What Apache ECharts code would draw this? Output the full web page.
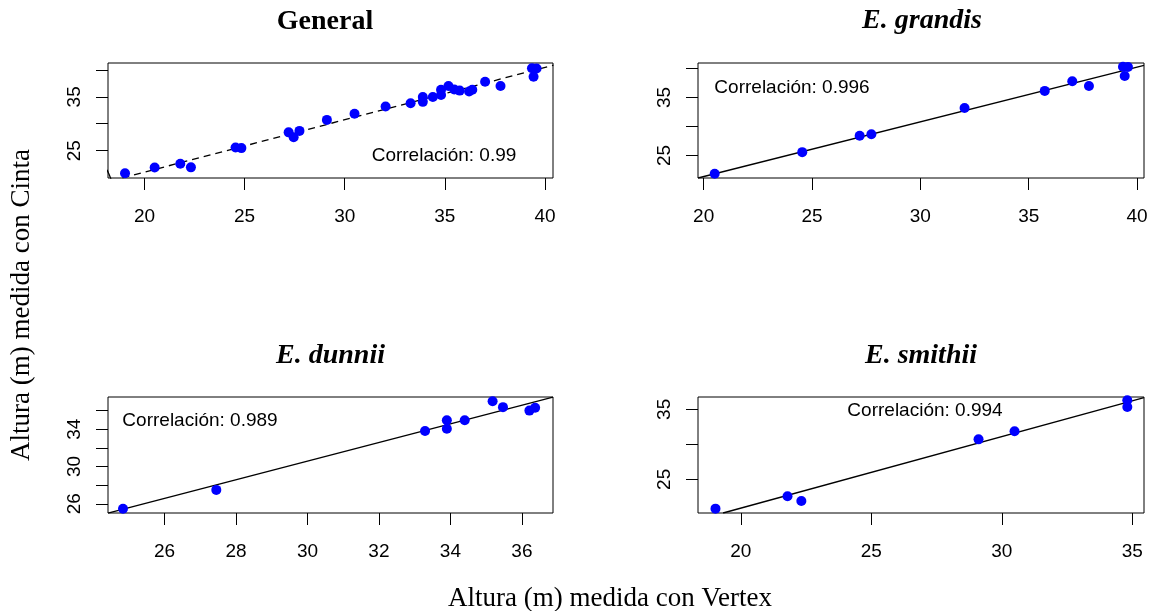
<!DOCTYPE html>
<html>
<head>
<meta charset="utf-8">
<script src="https://cdn.jsdelivr.net/npm/echarts@6/dist/echarts.min.js"></script>
<style>
  html, body { margin: 0; padding: 0; background: #ffffff; }
  #chart { width: 1155px; height: 611px; }
</style>
</head>
<body>
<div id="chart"></div>
<script>
// Heights (m): Vertex hypsometer (x) vs. tape "Cinta" (y), by species
const grandisVertex = [20.51, 24.55, 27.20, 27.74, 32.04, 35.74, 37.01, 37.78, 39.43, 39.35, 39.58];
const grandisCinta  = [21.86, 25.58, 28.40, 28.67, 33.20, 36.15, 37.80, 37.00, 38.72, 40.30, 40.27];

const dunniiVertex = [24.84, 27.45, 33.29, 33.90, 33.90, 34.40, 35.18, 35.47, 36.21, 36.37];
const dunniiCinta  = [25.47, 27.49, 33.82, 34.96, 34.06, 34.96, 37.00, 36.37, 36.00, 36.30];

const smithiiVertex = [19.03, 21.79, 22.32, 29.11, 30.49, 34.81, 34.81];
const smithiiCinta  = [20.81, 22.57, 21.90, 30.71, 31.86, 36.29, 35.33];

// Fitted lines, as end points [vertex, cinta]
const generalFit = [[18.90, 19.94], [40.42, 40.87]];
const generalFitTail = [[18.13, 21.43], [18.22, 20.69], [18.33, 19.70]];
const grandisFit = [[19.74, 21.12], [40.32, 40.56]];
const dunniiFit  = [[24.42, 25.00], [36.87, 37.44]];
const smithiiFit = [[19.32, 20.19], [35.45, 36.67]];

const correlations = ['0.99', '0.996', '0.989', '0.994'];
const panelTitles = ['General', 'E. grandis', 'E. dunnii', 'E. smithii'];

// Tick positions and the subset that carries labels
const generalXTicks = [20, 25, 30, 35, 40];
const generalYTicks = [25, 30, 35, 40];
const generalYLabels = [25, 35];
const grandisXTicks = [20, 25, 30, 35, 40];
const grandisYTicks = [25, 30, 35, 40];
const grandisYLabels = [25, 35];
const dunniiXTicks = [26, 28, 30, 32, 34, 36];
const dunniiYTicks = [26, 28, 30, 32, 34, 36];
const dunniiYLabels = [26, 30, 34];
const smithiiXTicks = [20, 25, 30, 35];
const smithiiYTicks = [25, 30, 35];
const smithiiYLabels = [25, 35];

const xAxisTitle = 'Altura (m) medida con Vertex';
const yAxisTitle = 'Altura (m) medida con Cinta';

const zip = (xs, ys) => xs.map((x, i) => [x, ys[i]]);

const generalPoints = zip(grandisVertex, grandisCinta)
  .concat(zip(dunniiVertex, dunniiCinta))
  .concat(zip(smithiiVertex, smithiiCinta));

const SANS = '"Liberation Sans", Arial, Helvetica, sans-serif';
const SERIF = '"Liberation Serif", "Times New Roman", serif';

const panels = [
  { grid: { left: 108, top: 63, width: 445, height: 115 },
    x: [18.18, 40.40], y: [19.92, 41.28],
    xTicks: generalXTicks, yTicks: generalYTicks, yLabels: generalYLabels,
    points: generalPoints, fit: generalFit, dashed: true, tail: generalFitTail,
    title: { x: 325, y: 22 }, corr: { x: 444, y: 156 } },
  { grid: { left: 698, top: 63, width: 446, height: 115 },
    x: [19.74, 40.32], y: [21.12, 40.96],
    xTicks: grandisXTicks, yTicks: grandisYTicks, yLabels: grandisYLabels,
    points: zip(grandisVertex, grandisCinta), fit: grandisFit, dashed: false,
    title: { x: 922, y: 21 }, corr: { x: 792, y: 88 } },
  { grid: { left: 108, top: 397, width: 445, height: 116 },
    x: [24.42, 36.87], y: [25.01, 37.46],
    xTicks: dunniiXTicks, yTicks: dunniiYTicks, yLabels: dunniiYLabels,
    points: zip(dunniiVertex, dunniiCinta), fit: dunniiFit, dashed: false,
    title: { x: 330.5, y: 356 }, corr: { x: 200, y: 421 } },
  { grid: { left: 698, top: 397, width: 446, height: 116 },
    x: [18.36, 35.45], y: [20.19, 36.76],
    xTicks: smithiiXTicks, yTicks: smithiiYTicks, yLabels: smithiiYLabels,
    points: zip(smithiiVertex, smithiiCinta), fit: smithiiFit, dashed: false,
    title: { x: 921, y: 356 }, corr: { x: 925, y: 411 } }
];

const grids = [], xAxes = [], yAxes = [], series = [], graphics = [];

panels.forEach((p, i) => {
  grids.push(Object.assign({ show: true, borderColor: '#000', borderWidth: 1,
    backgroundColor: 'transparent', containLabel: false }, p.grid));

  xAxes.push({
    type: 'value', gridIndex: i, min: p.x[0], max: p.x[1],
    axisLine: { show: false },
    splitLine: { show: false },
    axisTick: { show: true, length: 12, customValues: p.xTicks,
      lineStyle: { color: '#000', width: 1 } },
    axisLabel: { show: true, customValues: p.xTicks, margin: 29,
      color: '#000', fontSize: 19, fontFamily: SANS, hideOverlap: false }
  });

  yAxes.push({
    type: 'value', gridIndex: i, min: p.y[0], max: p.y[1],
    axisLine: { show: false },
    splitLine: { show: false },
    axisTick: { show: true, length: 12, customValues: p.yTicks,
      lineStyle: { color: '#000', width: 1 } },
    axisLabel: { show: true, customValues: p.yLabels, margin: 24, rotate: 90,
      color: '#000', fontSize: 19, fontFamily: SANS, hideOverlap: false }
  });

  series.push({
    type: 'line', xAxisIndex: i, yAxisIndex: i, data: p.fit,
    showSymbol: false, symbol: 'none', clip: true, silent: true,
    lineStyle: { color: '#000', width: 1.3,
      type: p.dashed ? [7, 5] : 'solid' },
    z: 3
  });
  if (p.tail) {
    series.push({
      type: 'line', xAxisIndex: i, yAxisIndex: i, data: p.tail, smooth: true,
      showSymbol: false, symbol: 'none', clip: true, silent: true,
      lineStyle: { color: '#000', width: 1.3 }, z: 3
    });
  }
  series.push({
    type: 'scatter', xAxisIndex: i, yAxisIndex: i, data: p.points,
    symbol: 'circle', symbolSize: 10, clip: false,
    itemStyle: { color: '#0000ff', opacity: 1 }, z: 4
  });

  const isItalic = i > 0;
  graphics.push({
    type: 'text', x: p.title.x, y: p.title.y,
    style: { text: panelTitles[i], fill: '#000',
      font: (isItalic ? 'italic ' : '') + 'bold 28px ' + SERIF,
      align: 'center', verticalAlign: 'middle',
      textAlign: 'center', textVerticalAlign: 'middle' }
  });
  graphics.push({
    type: 'text', x: p.corr.x, y: p.corr.y,
    style: { text: 'Correlación: ' + correlations[i], fill: '#000',
      font: '19px ' + SANS,
      align: 'center', verticalAlign: 'middle',
      textAlign: 'center', textVerticalAlign: 'middle' }
  });
});

graphics.push({
  type: 'text', x: 610, y: 599,
  style: { text: xAxisTitle, fill: '#000', font: '27px ' + SERIF,
    align: 'center', verticalAlign: 'middle',
    textAlign: 'center', textVerticalAlign: 'middle' }
});
graphics.push({
  type: 'text', x: 22, y: 305, rotation: Math.PI / 2,
  style: { text: yAxisTitle, fill: '#000', font: '27px ' + SERIF,
    align: 'center', verticalAlign: 'middle',
    textAlign: 'center', textVerticalAlign: 'middle' }
});

const chart = echarts.init(document.getElementById('chart'), null, { renderer: 'canvas' });
chart.setOption({
  animation: false,
  backgroundColor: '#ffffff',
  grid: grids,
  xAxis: xAxes,
  yAxis: yAxes,
  series: series,
  graphic: { elements: graphics }
});
</script>
</body>
</html>
